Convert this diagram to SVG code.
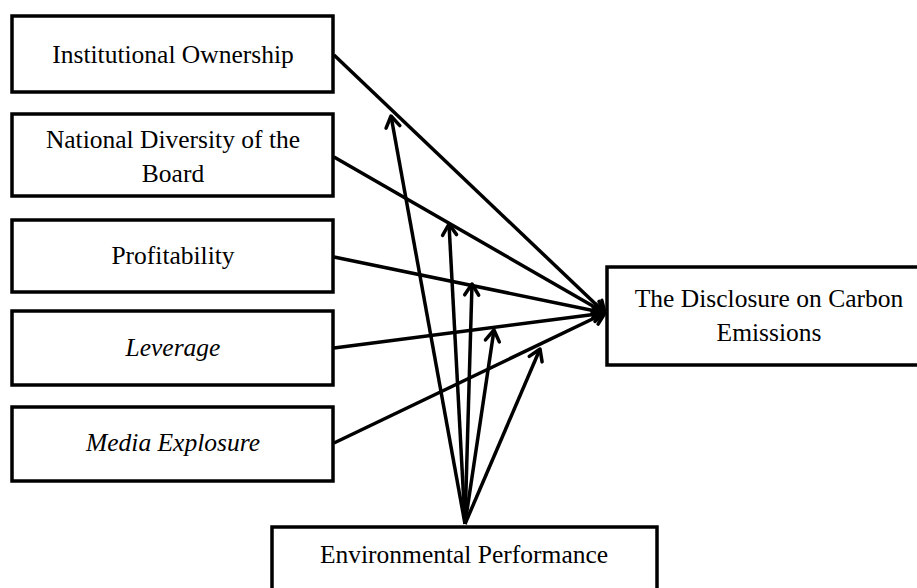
<svg xmlns="http://www.w3.org/2000/svg" width="917" height="588" viewBox="0 0 917 588">
<defs>
<style>
.box{fill:#fff;stroke:#000;stroke-width:3.5}
.t{font-family:"Liberation Serif","Times New Roman",serif;font-size:25.5px;fill:#000;text-anchor:middle}
.i{font-style:italic}
.c{stroke:#000;stroke-width:3.5;fill:none;marker-end:url(#ah)}
</style>
<marker id="ah" markerUnits="userSpaceOnUse" markerWidth="24" markerHeight="24" refX="0" refY="0" viewBox="-14 -12 20 24" orient="auto">
<path d="M-11,-7 L0,0 L-11,7" fill="none" stroke="#000" stroke-width="3.5" stroke-linecap="round" stroke-linejoin="round"/>
</marker>
</defs>
<rect width="917" height="588" fill="#fff"/>
<g id="connectors">
<line class="c" x1="334" y1="55" x2="605" y2="313"/>
<line class="c" x1="334" y1="157" x2="605" y2="313"/>
<line class="c" x1="334" y1="257" x2="605" y2="313"/>
<line class="c" x1="334" y1="348" x2="605" y2="313"/>
<line class="c" x1="334" y1="443" x2="605" y2="313"/>
<line class="c" x1="465" y1="524" x2="391" y2="116"/>
<line class="c" x1="465" y1="524" x2="449" y2="224"/>
<line class="c" x1="465" y1="524" x2="472" y2="284"/>
<line class="c" x1="465" y1="524" x2="494" y2="330"/>
<line class="c" x1="465" y1="524" x2="540" y2="349"/>
</g>
<g id="n-institutional">
<rect class="box" x="12" y="16" width="321" height="76"/>
<text class="t" x="173" y="63">Institutional Ownership</text>
</g>
<g id="n-national">
<rect class="box" x="12" y="114" width="321" height="82"/>
<text class="t" x="173" y="148">National Diversity of the</text>
<text class="t" x="173" y="182">Board</text>
</g>
<g id="n-profitability">
<rect class="box" x="12" y="220" width="321" height="72"/>
<text class="t" x="173" y="264">Profitability</text>
</g>
<g id="n-leverage">
<rect class="box" x="12" y="311" width="321" height="74"/>
<text class="t i" x="173" y="356">Leverage</text>
</g>
<g id="n-media">
<rect class="box" x="12" y="407" width="321" height="74"/>
<text class="t i" x="173" y="451">Media Explosure</text>
</g>
<g id="n-disclosure">
<rect class="box" x="607" y="267" width="330" height="98"/>
<text class="t" x="769" y="307">The Disclosure on Carbon</text>
<text class="t" x="769" y="341">Emissions</text>
</g>
<g id="n-environmental">
<rect class="box" x="272" y="527" width="385" height="80"/>
<text class="t" x="464" y="563">Environmental Performance</text>
</g>
</svg>
